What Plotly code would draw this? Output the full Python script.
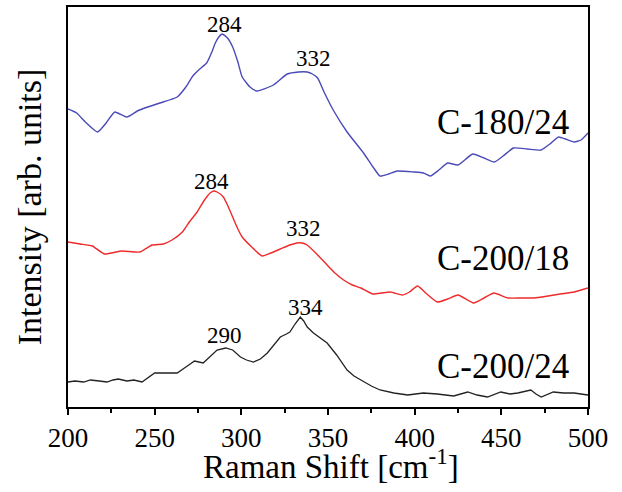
import plotly.graph_objects as go

# Raman shift (cm^-1) and intensities (arb. units, stacked offsets)
x_180_24 = [200, 205, 210, 217, 222, 227, 234, 240, 246, 253, 263, 268, 272, 276, 280, 283, 285, 287, 289, 292, 295,
            298, 300.5, 305, 309, 318.5, 326.5, 333, 338, 341, 344, 348, 353, 361, 370.5, 376, 380, 385, 390, 399.5, 405, 409,
            414, 419, 425, 433.5, 440, 446, 451, 457, 465, 473, 478, 483, 487, 492, 496, 500]
y_180_24 = [298, 294, 285, 275, 284, 295, 290, 296, 300, 304, 310, 320, 331, 338, 344, 355, 364, 370, 373, 369, 360,
            345, 330, 320, 316, 322, 333, 335, 335, 333, 329, 314, 297, 275, 254, 240, 231, 233, 236, 235, 234, 231,
            237, 244, 242, 253, 249, 245, 251, 259, 258, 257, 263, 270, 268, 265, 267, 274]

x_200_18 = [200, 207, 214, 221, 231, 241.5, 248.5, 255, 260, 266, 270, 274.5, 278, 280, 282, 284, 286, 289.6, 292, 295,
            298, 300.5, 306, 312, 317, 322.5, 328, 332, 335, 338, 344, 349.5, 354, 359, 364, 369, 376, 381, 386, 393, 397, 401.7, 407, 413,
            419, 425, 434, 440, 445.7, 453.8, 462, 469, 477, 484, 492, 500]
y_200_18 = [165, 163, 161, 153, 156, 155, 162, 163, 167, 175, 185, 195, 205, 210, 214, 216, 215, 210, 202, 190,
            178, 170, 160, 151, 154, 158, 162, 164, 164, 162, 152, 142, 134, 127, 122, 119, 113, 114, 115, 112, 115, 121, 113, 105,
            108, 112, 104, 109, 114, 109, 109, 109, 111, 113, 115, 119]

x_200_24 = [200, 204, 209, 213, 218, 222.5, 226, 229, 234, 238, 242.7, 246, 250, 256, 263, 268,
            273, 278, 282, 286, 291, 295, 299.5, 303, 307, 311, 315, 319, 322.5, 326, 328, 331, 334, 336, 338, 341.6,
            345, 349.5, 355, 361, 365, 369, 375, 380, 388, 396, 405, 413, 418, 422.5, 430.6, 436, 442, 449.7, 455, 459.5,
            467, 470, 473, 477, 480, 486, 492, 496, 500]
y_200_24 = [25, 26, 25, 27, 26, 25, 27, 28, 26, 27, 25, 29, 34, 34, 34, 40,
            46, 44, 51, 57, 59, 57, 50, 47, 45, 48, 54, 62, 70, 73, 75, 83, 90, 86, 80, 74,
            70, 64, 52, 37, 31, 27, 21, 17, 14, 12, 14, 13, 12, 11, 15, 12, 10, 15, 13, 14,
            17, 13, 10, 13, 15, 14, 14, 13, 12]

labels = ["C-180/24", "C-200/18", "C-200/24"]
label_x = [451, 451, 451]
label_y = [285, 149, 41]

peak_x = [290, 341.5, 283, 336, 290.5, 337]
peak_y = [383, 349, 226, 179, 72, 100]
peak_text = ["284", "332", "284", "332", "290", "334"]

x_title = "Raman Shift [cm<sup>-1</sup>]"
y_title = "Intensity [arb. units]"

font_family = "Liberation Serif"

fig = go.Figure()
fig.add_trace(go.Scatter(x=x_180_24, y=y_180_24, mode="lines", line=dict(color="#4a4ab8", width=1.4, shape="spline", smoothing=0.5)))
fig.add_trace(go.Scatter(x=x_200_18, y=y_200_18, mode="lines", line=dict(color="#ee2a2a", width=1.4, shape="spline", smoothing=0.5)))
fig.add_trace(go.Scatter(x=x_200_24, y=y_200_24, mode="lines", line=dict(color="#222222", width=1.3)))

for lx, ly, t in zip(label_x, label_y, labels):
    fig.add_annotation(x=lx, y=ly, text=t, showarrow=False, xanchor="center", yanchor="middle",
                       font=dict(family=font_family, size=35, color="black"))

for px, py, t in zip(peak_x, peak_y, peak_text):
    fig.add_annotation(x=px, y=py, text=t, showarrow=False, xanchor="center", yanchor="middle",
                       font=dict(family=font_family, size=23, color="black"))

# x-axis title as a paper-positioned text
fig.add_annotation(xref="paper", yref="paper", x=0.505, y=-0.2, text=x_title, showarrow=False,
                   xanchor="center", yanchor="bottom", font=dict(family=font_family, size=33, color="black"))

fig.update_layout(
    width=622, height=492,
    margin=dict(l=68, r=34, t=7, b=85),
    plot_bgcolor="white", paper_bgcolor="white",
    showlegend=False,
    font=dict(family=font_family, color="black"),
)
fig.update_xaxes(
    range=[200, 500], dtick=50, tick0=200,
    showline=True, linecolor="black", linewidth=2, mirror=True,
    ticks="outside", ticklen=6, tickwidth=1.5, tickcolor="black",
    minor=dict(ticks="outside", ticklen=4, dtick=25, tickwidth=1.5, tickcolor="black"),
    showgrid=False, zeroline=False, automargin=False,
    tickfont=dict(family=font_family, size=27, color="black"),
)
fig.update_yaxes(
    range=[0, 400],
    showline=True, linecolor="black", linewidth=2, mirror=True,
    ticks="", showticklabels=False, showgrid=False, zeroline=False, automargin=False,
    title=dict(text=y_title, font=dict(family=font_family, size=34, color="black"), standoff=14),
)

fig.write_html("out.html")
